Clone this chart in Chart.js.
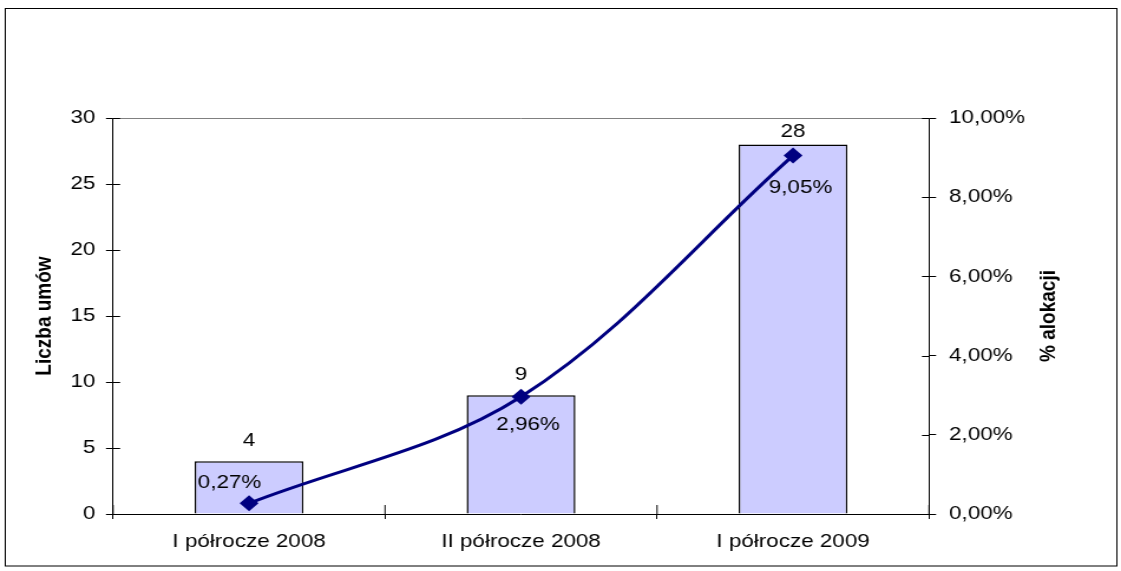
<!DOCTYPE html>
<html lang="pl">
<head>
<meta charset="utf-8">
<title>Liczba umów i % alokacji</title>
<script src="https://cdn.jsdelivr.net/npm/chart.js@4/dist/chart.umd.min.js"></script>
<style>
  html, body { margin: 0; padding: 0; background: #fff; overflow: hidden; }
  /* the original picture is stretched sideways, so draw narrow and stretch */
  #wrap { width: 950px; height: 571px; transform: scaleX(1.18); transform-origin: 0 0; }
</style>
</head>
<body>
<div id="wrap"><canvas id="wykres" width="950" height="571"></canvas></div>
<script>
const kategorie = ['I półrocze 2008', 'II półrocze 2008', 'I półrocze 2009'];
const liczbaUmow = [4, 9, 28];
const procentAlokacji = [0.27, 2.96, 9.05];
const lewaOs = { min: 0, max: 30, krok: 5 };
const prawaOs = { min: 0, max: 10, krok: 2 };

// label offsets for the % labels (dx, dy)
const przesuniecieEtykiet = [[-16.5, -21], [6, 27.5], [6.4, 32.5]];

const FONT = '"Liberation Sans", Arial, sans-serif';

function procent(v) {
    return v.toFixed(2).replace('.', ',') + '%';
}

const dodatki = {
    id: 'dodatki',
    afterDraw(chart) {
        const ctx = chart.ctx;
        const area = chart.chartArea;
        const y = chart.scales.y, y1 = chart.scales.y1, x = chart.scales.x;
        ctx.save();

        // outer frame
        ctx.strokeStyle = '#000';
        ctx.lineWidth = 1;
        ctx.strokeRect(4.5, 8.5, 942, 557.5);

        // top edge of plot area
        ctx.strokeStyle = '#808080';
        ctx.beginPath();
        ctx.moveTo(area.left, area.top + 0.5);
        ctx.lineTo(area.right, area.top + 0.5);
        ctx.stroke();

        // tick marks crossing into the plot
        ctx.strokeStyle = '#000';
        ctx.beginPath();
        y.ticks.forEach((t, i) => {
            const py = Math.round(y.getPixelForTick(i)) + 0.5;
            ctx.moveTo(area.left, py);
            ctx.lineTo(area.left + 6, py);
        });
        y1.ticks.forEach((t, i) => {
            const py = Math.round(y1.getPixelForTick(i)) + 0.5;
            ctx.moveTo(area.right - 6, py);
            ctx.lineTo(area.right, py);
        });
        for (let i = 0; i <= kategorie.length; i++) {
            const px = x.getPixelForValue(i - 0.5);
            ctx.moveTo(px, area.bottom);
            ctx.lineTo(px, area.bottom - 9);
        }
        ctx.stroke();

        ctx.fillStyle = '#000';
        ctx.font = '19px ' + FONT;
        ctx.textAlign = 'center';

        // bar values
        const slupki = chart.getDatasetMeta(1);
        slupki.data.forEach((el, i) => {
            const by = Math.max(el.y - 15, area.top + 19);
            ctx.textBaseline = 'alphabetic';
            ctx.fillText(String(liczbaUmow[i]), el.x, by);
        });

        // line values
        const linia = chart.getDatasetMeta(0);
        linia.data.forEach((el, i) => {
            const [dx, dy] = przesuniecieEtykiet[i];
            ctx.textBaseline = 'middle';
            ctx.fillText(procent(procentAlokacji[i]), el.x + dx, el.y + dy);
        });

        // right axis title, reading upwards
        ctx.font = 'bold 19px ' + FONT;
        ctx.translate(889, (area.top + area.bottom) / 2);
        ctx.rotate(-Math.PI / 2);
        ctx.textBaseline = 'middle';
        ctx.fillText('% alokacji', 0, 0);

        ctx.restore();
    }
};

const ctx = document.getElementById('wykres').getContext('2d');
new Chart(ctx, {
    data: {
        labels: kategorie,
        datasets: [
            {
                type: 'line',
                label: '% alokacji',
                data: procentAlokacji,
                yAxisID: 'y1',
                borderColor: '#000080',
                backgroundColor: '#000080',
                borderWidth: 3,
                tension: 0.35,
                pointStyle: 'rectRot',
                pointRadius: 8,
                pointBorderWidth: 0,
                order: 0
            },
            {
                type: 'bar',
                label: 'Liczba umów',
                data: liczbaUmow,
                yAxisID: 'y',
                backgroundColor: '#CCCCFF',
                borderColor: '#000',
                borderWidth: 1.5,
                borderSkipped: 'bottom',
                barPercentage: 0.4,
                categoryPercentage: 1,
                order: 1
            }
        ]
    },
    options: {
        responsive: false,
        animation: false,
        layout: { padding: { top: 118, left: 0, right: 0, bottom: 0 } },
        plugins: {
            legend: { display: false },
            tooltip: { enabled: false }
        },
        scales: {
            x: {
                grid: { offset: true, drawOnChartArea: false, tickLength: 5, color: '#000' },
                border: { color: '#000', width: 1 },
                ticks: { color: '#000', padding: 11, font: { family: FONT, size: 19 }, maxRotation: 0 },
                afterFit: s => { s.height = 57; }
            },
            y: {
                position: 'left',
                min: lewaOs.min,
                max: lewaOs.max,
                grid: { drawOnChartArea: false, tickLength: 6, color: '#000' },
                border: { color: '#000', width: 1 },
                ticks: { stepSize: lewaOs.krok, color: '#000', padding: 9, font: { family: FONT, size: 19 } },
                title: {
                    display: true,
                    text: 'Liczba umów',
                    color: '#000',
                    font: { family: FONT, size: 19, weight: 'bold' },
                    padding: { top: 26.7, bottom: 0 }
                },
                afterFit: s => { s.width = 95.8; }
            },
            y1: {
                position: 'right',
                min: prawaOs.min,
                max: prawaOs.max,
                grid: { drawOnChartArea: false, tickLength: 6, color: '#000' },
                border: { color: '#000', width: 1 },
                ticks: {
                    stepSize: prawaOs.krok,
                    color: '#000',
                    padding: 11,
                    font: { family: FONT, size: 19 },
                    callback: v => procent(v)
                },
                afterFit: s => { s.width = 162.7; }
            }
        }
    },
    plugins: [dodatki]
});
</script>
</body>
</html>
